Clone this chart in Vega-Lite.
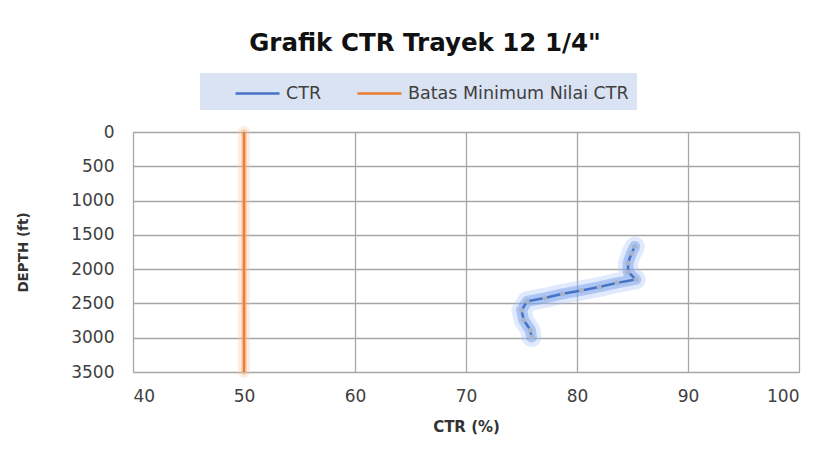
{
  "$schema": "https://vega.github.io/schema/vega-lite/v6.json",
  "width": 666,
  "height": 240,
  "autosize": {"type": "none"},
  "padding": {"left": 133, "top": 132, "right": 38, "bottom": 92},
  "background": "white",
  "title": {
    "text": "Grafik CTR Trayek 12 1/4\"",
    "font": "DejaVu Sans",
    "fontSize": 24.5,
    "fontWeight": "bold",
    "color": "#111111",
    "anchor": "middle",
    "frame": "group",
    "dx": -41,
    "offset": 17
  },
  "datasets": {
    "ctr": [
      {"series": "CTR", "depth": 1670, "ctr": 85.2},
      {"series": "CTR", "depth": 1770, "ctr": 84.9},
      {"series": "CTR", "depth": 1910, "ctr": 84.6},
      {"series": "CTR", "depth": 2040, "ctr": 84.6},
      {"series": "CTR", "depth": 2150, "ctr": 85.3},
      {"series": "CTR", "depth": 2200, "ctr": 83.6},
      {"series": "CTR", "depth": 2260, "ctr": 82.0},
      {"series": "CTR", "depth": 2310, "ctr": 80.4},
      {"series": "CTR", "depth": 2360, "ctr": 78.7},
      {"series": "CTR", "depth": 2420, "ctr": 77.1},
      {"series": "CTR", "depth": 2470, "ctr": 75.5},
      {"series": "CTR", "depth": 2600, "ctr": 75.0},
      {"series": "CTR", "depth": 2740, "ctr": 75.2},
      {"series": "CTR", "depth": 2890, "ctr": 75.8},
      {"series": "CTR", "depth": 2990, "ctr": 75.9}
    ],
    "batas": [
      {"series": "Batas Minimum Nilai CTR", "depth": 0, "ctr": 50},
      {"series": "Batas Minimum Nilai CTR", "depth": 3500, "ctr": 50}
    ]
  },
  "encoding": {
    "x": {
      "field": "ctr", "type": "quantitative",
      "scale": {"domain": [40, 100], "nice": false, "zero": false},
      "axis": {
        "title": "CTR (%)",
        "values": [40, 50, 60, 70, 80, 90, 100],
        "format": "d",
        "labelFont": "DejaVu Sans", "labelFontSize": 17, "labelColor": "#404040",
        "labelPadding": 16,
        "titleFont": "DejaVu Sans", "titleFontSize": 15, "titleFontWeight": "bold", "titleColor": "#333333",
        "titlePadding": 15,
        "ticks": false,
        "domainColor": "#a6a6a6", "gridColor": "#a6a6a6", "grid": true, "gridWidth": 1.3
      }
    },
    "y": {
      "field": "depth", "type": "quantitative",
      "scale": {"domain": [0, 3500], "reverse": true, "nice": false},
      "axis": {
        "title": "DEPTH (ft)",
        "values": [0, 500, 1000, 1500, 2000, 2500, 3000, 3500],
        "format": "d",
        "labelFont": "DejaVu Sans", "labelFontSize": 17, "labelColor": "#404040",
        "labelPadding": 19,
        "titleFont": "DejaVu Sans", "titleFontSize": 13.5, "titleFontWeight": "bold", "titleColor": "#333333",
        "titlePadding": 40,
        "ticks": false,
        "domainColor": "#a6a6a6", "gridColor": "#a6a6a6", "grid": true, "gridWidth": 1.3
      }
    },
    "order": {"field": "depth", "type": "quantitative"}
  },
  "layer": [
    {
      "data": {"name": "batas"},
      "mark": {"type": "line", "color": "#f8c7a4", "strokeWidth": 12, "opacity": 0.3, "strokeCap": "round"}
    },
    {
      "data": {"name": "batas"},
      "mark": {"type": "line", "color": "#f4a46e", "strokeWidth": 6, "opacity": 0.35, "strokeCap": "round"}
    },
    {
      "data": {"name": "ctr"},
      "mark": {"type": "line", "color": "#a9c3f5", "strokeWidth": 20, "opacity": 0.35, "strokeCap": "round", "strokeJoin": "round"}
    },
    {
      "data": {"name": "ctr"},
      "mark": {"type": "line", "color": "#6d98ea", "strokeWidth": 11, "opacity": 0.45, "strokeCap": "round", "strokeJoin": "round"}
    },
    {
      "data": {"name": "batas"},
      "mark": {"type": "line", "strokeWidth": 2.5},
      "encoding": {
        "color": {
          "field": "series", "type": "nominal",
          "scale": {"domain": ["CTR", "Batas Minimum Nilai CTR"], "range": ["#4472c4", "#ed7d31"]},
          "legend": {
            "title": null,
            "orient": "none",
            "legendX": 67,
            "legendY": -59,
            "direction": "horizontal",
            "fillColor": "#dae3f3",
            "padding": 8,
            "symbolType": "M-2,0H2",
            "symbolSize": 484,
            "symbolOffset": 37,
            "symbolStrokeWidth": 2.5,
            "labelFont": "DejaVu Sans",
            "labelFontSize": 17.5,
            "labelColor": "#404040",
            "labelOffset": 16,
            "columnPadding": 8,
            "labelLimit": 400
          }
        }
      }
    },
    {
      "data": {"name": "ctr"},
      "mark": {"type": "line", "strokeWidth": 2.5},
      "encoding": {
        "color": {"field": "series", "type": "nominal"}
      }
    },
    {
      "data": {"name": "ctr"},
      "mark": {"type": "point", "filled": true, "color": "#a9b4c8", "size": 25, "opacity": 1}
    }
  ],
  "config": {
    "view": {"stroke": null}
  }
}
